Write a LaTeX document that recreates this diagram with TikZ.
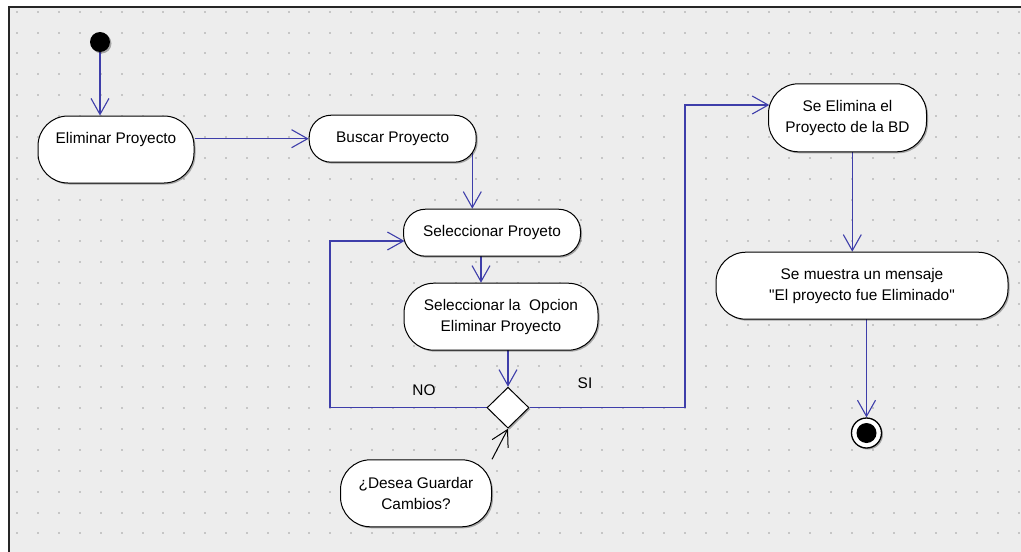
\documentclass[tikz,border=0pt]{standalone}
\usepackage{fontspec}
\setmainfont{Liberation Sans}[Ligatures=TeXOff]
\usetikzlibrary{arrows.meta,shapes.geometric,shadows,calc}
\pgfdeclarelayer{canvas}
\pgfdeclarelayer{wires}
\pgfsetlayers{canvas,wires,main}
\definecolor{wireblue}{RGB}{62,62,170}
\definecolor{paper}{RGB}{237,237,237}
\definecolor{griddot}{RGB}{198,198,198}
\begin{document}
\begin{tikzpicture}[x=1pt,y=-1pt,
  font=\fontsize{15.4}{20.8}\selectfont,
  softshadow/.style={drop shadow={shadow xshift=1.5pt,shadow yshift=-1.5pt,opacity=0.3,fill=black}},
  action/.style={draw=black,line width=1pt,fill=white,align=center,inner sep=0pt,softshadow},
  shortbox/.style={action,rounded corners=22pt,minimum height=47pt},
  tallbox/.style={action,rounded corners=30pt,minimum height=67pt},
  tip/.style={-{Straight Barb[length=16pt,width=18pt]}},
  flow/.style={draw=wireblue,line width=1.1pt,tip},
  note/.style={draw=black,line width=1pt,tip},
  guard/.style={inner sep=0pt}
]
\useasboundingbox (0,0) rectangle (1021,552);

% drawing sheet with its dotted grid and frame
\begin{pgfonlayer}{canvas}
  \fill[white] (0,0) rectangle (1021,552);
  \fill[paper] (8,6) rectangle (1021,552);
  \foreach \i in {0,...,48}
    \foreach \j in {0,...,25}
      \fill[griddot] ({16.3+20.87*\i},{10.7+20.87*\j}) rectangle ++(2,2);
  \draw[line width=2pt,black!85] (9,552) -- (9,7) -- (1021,7);
\end{pgfonlayer}

% activities
\node[circle,fill=black,minimum size=20pt,inner sep=0pt,softshadow] (start) at (100,42) {};
\node[tallbox,minimum width=156pt] (elim) at (116,149.5) {Eliminar Proyecto\\[2pt]\mbox{}};
\node[shortbox,minimum width=167pt] (buscar) at (392.7,138.7) {Buscar Proyecto};
\node[shortbox,minimum width=177pt] (selp) at (492,232.7) {Seleccionar Proyeto};
\node[tallbox,minimum width=194pt] (selop) at (501,316.7) {Seleccionar la\ \ Opcion\\Eliminar Proyecto};
\node[diamond,draw=black,line width=1pt,fill=white,minimum width=42pt,minimum height=41pt,inner sep=0pt,softshadow] (dec) at (508,407.7) {};
\node[tallbox,minimum width=151pt] (desea) at (416,493.3) {¿Desea Guardar\\Cambios?};
\node[action,rounded corners=30pt,minimum height=68pt,minimum width=158pt] (seelim) at (847.5,117.8) {Se Elimina el\\Proyecto de la BD};
\node[tallbox,minimum width=292pt] (msg) at (862,285.7) {Se muestra un mensaje\\"El proyecto fue Eliminado"};
\node[circle,draw=black,line width=1.3pt,fill=white,minimum size=30pt,inner sep=0pt,softshadow] (end) at (866.5,433) {};
\node[circle,fill=black,minimum size=20pt,inner sep=0pt] (endcore) at (end.center) {};

% guard labels
\node[guard] (nolbl) at (424,390) {NO};
\node[guard] (silbl) at (585,383) {SI};

% control flow
\begin{pgfonlayer}{wires}
  \draw[flow] (start) -- (start |- elim.north);
  \draw[flow] (elim.east |- buscar.west) -- (buscar.west);
  \draw[flow] (buscar.center -| 472.3,0) -- (selp.north -| 472.3,0);
  \draw[flow] (selp.center -| 481,0) -- (selop.north -| 481,0);
  \draw[flow] (selop.center -| dec.north) -- (dec.north);
  \draw[flow] (dec.west) -| (330,241) -- ([xshift=1.5pt,yshift=-8.3pt]selp.west);
  \draw[flow] (dec.east) -| (685,105) -- ([xshift=1.3pt,yshift=12.8pt]seelim.west);
  \draw[flow] ([xshift=4.8pt]seelim.center) -- ([xshift=4.8pt]seelim.center |- msg.north);
  \draw[flow] (msg.center -| end.north) -- (end.north);
  \draw[note] (desea.north east) -- (dec.south);
\end{pgfonlayer}
\end{tikzpicture}
\end{document}
